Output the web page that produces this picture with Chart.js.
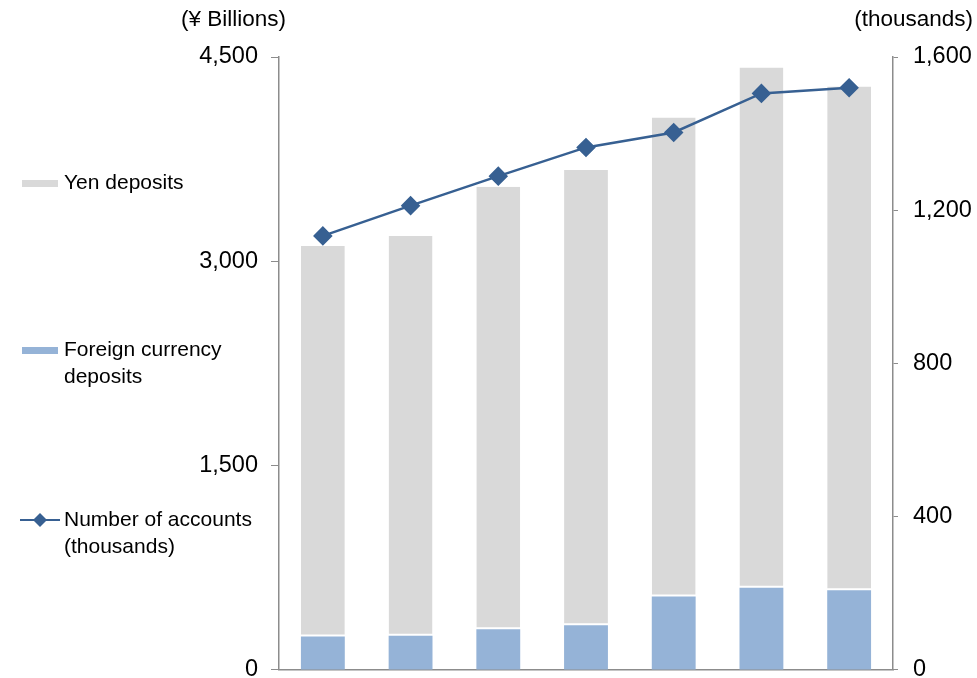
<!DOCTYPE html>
<html>
<head>
<meta charset="utf-8">
<title>Deposits and accounts</title>
<script src="https://cdn.jsdelivr.net/npm/chart.js@4.4.1/dist/chart.umd.min.js"></script>
<style>
  html, body { margin: 0; padding: 0; background: #fff; overflow: hidden; }
  /* a little taller than the window so the plot floor sits near the bottom edge */
  #wrap { width: 977px; height: 699px; position: relative; }
</style>
</head>
<body>
<div id="wrap"><canvas id="depositChart"></canvas></div>
<script>
// fiscal periods (not labelled on the axis)
const periods = ['FY1', 'FY2', 'FY3', 'FY4', 'FY5', 'FY6', 'FY7'];
// ¥ billions
const foreignDeposits = [245, 250, 299, 328, 538, 604, 585];
const yenDeposits = [2868, 2936, 3249, 3343, 3517, 3818, 3698];
// thousands
const accounts = [1133, 1212, 1289, 1364, 1403, 1505, 1520];

const leftTicks = [0, 1500, 3000, 4500];
const rightTicks = [0, 400, 800, 1200, 1600];

const FONT = '"Liberation Sans", Arial, sans-serif';
const AXIS_GREY = '#8c8c8c';
const YEN_GREY = '#d9d9d9';
const FX_BLUE = '#95b3d7';
const LINE_BLUE = '#376092';

// axis captions and the left-hand legend are drawn straight onto the canvas
const sideLegend = {
    id: 'sideLegend',
    afterDraw(chart) {
        const ctx = chart.ctx;
        ctx.save();
        ctx.fillStyle = '#000';
        ctx.textBaseline = 'middle';

        ctx.font = '22.5px ' + FONT;
        ctx.textAlign = 'right';
        ctx.fillText('(¥ Billions)', 286, 20);
        ctx.fillText('(thousands)', 973, 20);

        ctx.font = '21px ' + FONT;
        ctx.textAlign = 'left';
        ctx.fillStyle = YEN_GREY;
        ctx.fillRect(22, 180, 36, 7);
        ctx.fillStyle = '#000';
        ctx.fillText('Yen deposits', 64, 183);

        ctx.fillStyle = FX_BLUE;
        ctx.fillRect(22, 347, 36, 7);
        ctx.fillStyle = '#000';
        ctx.fillText('Foreign currency', 64, 350);
        ctx.fillText('deposits', 64, 377);

        ctx.strokeStyle = LINE_BLUE;
        ctx.lineWidth = 2;
        ctx.beginPath();
        ctx.moveTo(20, 520);
        ctx.lineTo(60, 520);
        ctx.stroke();
        ctx.fillStyle = LINE_BLUE;
        ctx.beginPath();
        ctx.moveTo(40, 513);
        ctx.lineTo(47, 520);
        ctx.lineTo(40, 527);
        ctx.lineTo(33, 520);
        ctx.closePath();
        ctx.fill();
        ctx.fillStyle = '#000';
        ctx.fillText('Number of accounts', 64, 520);
        ctx.fillText('(thousands)', 64, 547);
        ctx.restore();
    }
};

const ctx = document.getElementById('depositChart').getContext('2d');

new Chart(ctx, {
    type: 'bar',
    data: {
        labels: periods,
        datasets: [
            {
                type: 'line',
                label: 'Number of accounts (thousands)',
                data: accounts,
                yAxisID: 'y1',
                borderColor: LINE_BLUE,
                backgroundColor: LINE_BLUE,
                borderWidth: 2.5,
                pointStyle: 'rectRot',
                pointRadius: 8,
                pointHoverRadius: 8,
                tension: 0,
                order: 0
            },
            {
                label: 'Foreign currency deposits',
                data: foreignDeposits,
                yAxisID: 'y',
                stack: 'deposits',
                backgroundColor: FX_BLUE,
                borderWidth: 0,
                order: 1
            },
            {
                label: 'Yen deposits',
                data: yenDeposits,
                yAxisID: 'y',
                stack: 'deposits',
                backgroundColor: YEN_GREY,
                borderColor: '#ffffff',
                borderWidth: { top: 0, left: 0, right: 0, bottom: 2 },
                borderSkipped: false,
                order: 1
            }
        ]
    },
    options: {
        responsive: true,
        maintainAspectRatio: false,
        animation: false,
        layout: {
            padding: { top: 57, bottom: 8, left: 0, right: 0 }
        },
        datasets: {
            bar: { categoryPercentage: 1, barPercentage: 0.5 }
        },
        plugins: {
            legend: { display: false },
            tooltip: { enabled: false }
        },
        scales: {
            x: {
                stacked: true,
                afterFit(scale) { scale.height = 0; },
                grid: { display: false, drawTicks: false },
                border: { display: true, color: AXIS_GREY, width: 1.5 },
                ticks: { display: false }
            },
            y: {
                position: 'left',
                stacked: true,
                min: 0,
                max: 4500,
                afterBuildTicks(scale) {
                    scale.ticks = leftTicks.map(v => ({ value: v }));
                },
                afterFit(scale) { scale.width = 279; },
                grid: {
                    drawOnChartArea: false,
                    drawTicks: true,
                    tickLength: 8,
                    tickColor: AXIS_GREY
                },
                border: { display: true, color: AXIS_GREY, width: 1.5 },
                ticks: {
                    color: '#000',
                    padding: 13,
                    font: { family: FONT, size: 23.5 },
                    callback: v => v.toLocaleString('en-US')
                }
            },
            y1: {
                position: 'right',
                min: 0,
                max: 1600,
                afterBuildTicks(scale) {
                    scale.ticks = rightTicks.map(v => ({ value: v }));
                },
                afterFit(scale) { scale.width = 84; },
                grid: {
                    drawOnChartArea: false,
                    drawTicks: true,
                    tickLength: 5,
                    tickColor: AXIS_GREY
                },
                border: { display: true, color: AXIS_GREY, width: 1.5 },
                ticks: {
                    color: '#000',
                    padding: 15,
                    font: { family: FONT, size: 23.5 },
                    callback: v => v.toLocaleString('en-US')
                }
            }
        }
    },
    plugins: [sideLegend]
});
</script>
</body>
</html>
